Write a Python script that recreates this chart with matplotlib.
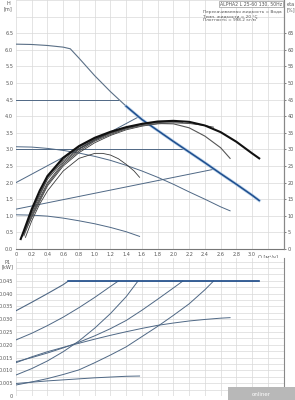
import matplotlib
matplotlib.use("Agg")
import matplotlib.pyplot as plt
import numpy as np

# ---------------- data ----------------
# H-Q curves (top chart)
q_s3 = [0, 0.2, 0.4, 0.6, 0.69, 0.8, 1.0, 1.2, 1.4, 1.6, 1.8, 2.0, 2.2, 2.4, 2.6, 2.8, 3.0, 3.09]
h_s3 = [6.17, 6.16, 6.13, 6.08, 6.03, 5.75, 5.22, 4.74, 4.30, 3.90, 3.57, 3.24, 2.92, 2.60, 2.27, 1.95, 1.62, 1.46]
q_s2 = [0, 0.2, 0.4, 0.6, 0.8, 1.0, 1.2, 1.4, 1.6, 1.8, 2.0, 2.2, 2.4, 2.6, 2.72]
h_s2 = [3.08, 3.07, 3.03, 2.97, 2.89, 2.79, 2.67, 2.52, 2.35, 2.16, 1.95, 1.72, 1.50, 1.27, 1.15]
q_s1 = [0, 0.2, 0.4, 0.6, 0.8, 1.0, 1.2, 1.4, 1.57]
h_s1 = [1.03, 1.02, 0.99, 0.93, 0.85, 0.76, 0.65, 0.52, 0.38]
q_cp45 = [0, 1.3]
h_cp45 = [4.5, 4.5]
q_cp30 = [0, 2.12]
h_cp30 = [3.0, 3.0]
q_pphi = [0, 1.55]
h_pphi = [2.0, 3.97]
q_pplo = [0, 2.51]
h_pplo = [1.2, 2.40]

# efficiency curves (eta %, right axis)
q_e3 = [0.06, 0.1, 0.2, 0.3, 0.4, 0.6, 0.8, 1.0, 1.2, 1.4, 1.6, 1.8, 2.0, 2.2, 2.4, 2.6, 2.8, 3.0, 3.09]
e_e3 = [3, 5.5, 12, 17.5, 22, 27.5, 31, 33.5, 35.3, 36.7, 37.7, 38.4, 38.6, 38.3, 37.2, 35.2, 32.3, 28.8, 27.3]
q_e2 = [0.1, 0.2, 0.4, 0.6, 0.8, 1.0, 1.2, 1.4, 1.6, 1.8, 2.0, 2.2, 2.4, 2.6, 2.72]
e_e2 = [4, 10, 19.5, 25.5, 29.5, 32.5, 34.5, 36.2, 37.2, 37.8, 37.7, 36.5, 34, 30.5, 27.3]
q_e1 = [0.12, 0.2, 0.3, 0.4, 0.6, 0.8, 1.0, 1.1, 1.2, 1.3, 1.4, 1.5, 1.57]
e_e1 = [3.5, 8.5, 13.5, 17.5, 23.5, 27.3, 28.8, 28.8, 28.3, 27.2, 25.5, 23.5, 21.6]
q_ecp45 = [0.08, 0.2, 0.4, 0.6, 0.8, 1.0, 1.2, 1.3]
e_ecp45 = [4, 11, 21, 26.5, 30.3, 33, 35, 35.8]
q_epphi = [0.1, 0.2, 0.4, 0.6, 0.8, 1.0, 1.2, 1.4, 1.55]
e_epphi = [5, 10.5, 20, 26, 30, 32.8, 34.8, 36.3, 37.2]
q_ecp30 = [0.07, 0.2, 0.4, 0.6, 0.8, 1.0, 1.2, 1.4, 1.6, 1.8, 2.0, 2.12]
e_ecp30 = [3.5, 11.5, 21.5, 27, 30.7, 33.2, 35.1, 36.5, 37.5, 38.1, 38.3, 38.2]
q_epplo = [0.1, 0.2, 0.4, 0.6, 0.8, 1.0, 1.2, 1.4, 1.6, 1.8, 2.0, 2.2, 2.4, 2.51]
e_epplo = [4.5, 9.5, 19, 25, 29, 32, 34.2, 35.9, 37, 37.7, 38.0, 37.8, 37.2, 36.7]

# P1-Q curves (bottom chart)
q_p3 = [0, 0.2, 0.4, 0.6, 0.665, 3.09]
p_p3 = [0.0333, 0.0366, 0.0400, 0.0435, 0.0449, 0.0449]
q_pcp45 = [0, 0.2, 0.4, 0.6, 0.8, 1.0, 1.2, 1.3]
p_pcp45 = [0.0219, 0.0245, 0.0275, 0.0308, 0.0345, 0.0385, 0.0428, 0.0449]
q_ppphi = [0, 0.2, 0.4, 0.6, 0.8, 1.0, 1.2, 1.4, 1.55]
p_ppphi = [0.0082, 0.0107, 0.0137, 0.0173, 0.0215, 0.0265, 0.0322, 0.0388, 0.0449]
q_pcp30 = [0, 0.2, 0.4, 0.6, 0.8, 1.0, 1.2, 1.4, 1.6, 1.8, 2.0, 2.12]
p_pcp30 = [0.0134, 0.0150, 0.0168, 0.0188, 0.0210, 0.0235, 0.0263, 0.0295, 0.0335, 0.0378, 0.0422, 0.0449]
q_p2 = [0, 0.2, 0.4, 0.6, 0.8, 1.0, 1.2, 1.4, 1.6, 1.8, 2.0, 2.2, 2.4, 2.6, 2.72]
p_p2 = [0.0130, 0.0153, 0.0173, 0.0190, 0.0206, 0.0222, 0.0237, 0.0251, 0.0264, 0.0276, 0.0285, 0.0293, 0.0299, 0.0304, 0.0306]
q_ppplo = [0, 0.2, 0.4, 0.6, 0.8, 1.0, 1.2, 1.4, 1.6, 1.8, 2.0, 2.2, 2.4, 2.51]
p_ppplo = [0.0043, 0.0055, 0.0068, 0.0084, 0.0102, 0.0130, 0.0160, 0.0192, 0.0232, 0.0272, 0.0315, 0.0360, 0.0415, 0.0449]
q_p1 = [0, 0.2, 0.4, 0.6, 0.8, 1.0, 1.2, 1.4, 1.57]
p_p1 = [0.0049, 0.0054, 0.0059, 0.0063, 0.0067, 0.0071, 0.0074, 0.0077, 0.0078]

x_ticks = [round(0.2 * i, 1) for i in range(16)]
h_ticks = [round(0.5 * i, 1) for i in range(14)]
eta_ticks = list(range(0, 70, 5))
p_ticks = [0.005 * i for i in range(10)]
p_tick_labels = ["0"] + ["%.3f" % (0.005 * i) for i in range(1, 10)]

header = "ALPHA2 L 25-60 130, 50Hz"
info = ["Перекачиваемая жидкость = Вода", "Темп. жидкости = 20 °C", "Плотность = 998.2 кг/м³"]

# ---------------- style ----------------
plt.rcParams['font.family'] = ['DejaVu Sans']
TXT = "#555555"
GRID = "#d9d9d9"
LINE = "#4f6885"
BLUE = "#1f4f8f"
FS = 3.6
FS_HEAD = 3.3
FS_INFO = 3.05

fig = plt.figure(figsize=(2.95, 4.0), dpi=100)
W, H = 295.0, 400.0

def ax_rect(x0, y_top, x1, y_bot):
    return [x0 / W, 1 - y_bot / H, (x1 - x0) / W, (y_bot - y_top) / H]

# ---------- top chart ----------
ax = fig.add_axes(ax_rect(16, 0, 283.6, 249))
ax.set_xlim(0, 3.4)
ax.set_ylim(0, 7.5)
for v in np.arange(0, 3.41, 0.2):
    ax.axvline(v, color=GRID, lw=0.5, zorder=0)
for v in np.arange(0, 7.51, 0.5):
    ax.axhline(v, color=GRID, lw=0.5, zorder=0)
for s in ["top", "left"]:
    ax.spines[s].set_visible(False)
ax.spines["bottom"].set_color("#777777")
ax.spines["bottom"].set_linewidth(0.8)
ax.spines["right"].set_color("#888888")
ax.spines["right"].set_linewidth(0.8)
ax.set_xticks(x_ticks)
ax.set_xticklabels(["0"] + ["%.1f" % v for v in x_ticks[1:]])
ax.set_yticks(h_ticks)
ax.set_yticklabels(["%.1f" % v for v in h_ticks])
ax.tick_params(axis="both", labelsize=FS, colors=TXT, length=0, pad=2)
ax.text(3.2, -0.17, "Q [м³/ч]", fontsize=FS, color=TXT, ha="center", va="top")
fig.text(8 / W, 1 - 1 / H, "H", fontsize=FS, color=TXT, ha="center", va="top")
fig.text(8 / W, 1 - 6 / H, "[m]", fontsize=FS, color=TXT, ha="center", va="top")

for qq, hh in [(q_s1, h_s1), (q_s2, h_s2), (q_cp45, h_cp45), (q_cp30, h_cp30),
               (q_pphi, h_pphi), (q_pplo, h_pplo)]:
    ax.plot(qq, hh, color=LINE, lw=0.7, zorder=3)
ax.plot(q_s3, h_s3, color="#5a6f86", lw=0.8, zorder=3)
q_b = [q for q in q_s3 if q >= 1.3]
h_b = [h for q, h in zip(q_s3, h_s3) if q >= 1.3]
ax.plot(q_b, h_b, color="#a9c6e4", lw=2.2, zorder=3, alpha=0.8)
ax.plot(q_b, h_b, color=BLUE, lw=1.1, zorder=4)

ax2 = ax.twinx()
ax2.set_ylim(0, 75)
for s in ["top", "left", "bottom"]:
    ax2.spines[s].set_visible(False)
ax2.spines["right"].set_color("#888888")
ax2.spines["right"].set_linewidth(0.8)
ax2.set_yticks(eta_ticks)
ax2.set_yticklabels([str(v) for v in eta_ticks])
ax2.tick_params(axis="y", labelsize=FS, colors=TXT, length=1.5, width=0.5, pad=1.5)
ax2.text(1.01, 74.5, "eta", transform=ax2.get_yaxis_transform(), fontsize=FS, color=TXT, ha="left", va="top")
ax2.text(1.01, 72.7, "[%]", transform=ax2.get_yaxis_transform(), fontsize=FS, color=TXT, ha="left", va="top")

for qq, ee in [(q_e1, e_e1), (q_ecp45, e_ecp45), (q_epphi, e_epphi), (q_ecp30, e_ecp30), (q_epplo, e_epplo)]:
    ax2.plot(qq, ee, color="#3a3a3a", lw=0.6, zorder=5)
ax2.plot(q_e2, e_e2, color="#555555", lw=0.8, zorder=5)
ax2.plot(q_e3, e_e3, color="#111111", lw=1.5, zorder=6)

fig.text(282 / W, 1 - 1.5 / H, header, fontsize=FS_HEAD, color=TXT, ha="right", va="top",
         bbox=dict(boxstyle="square,pad=0.2", fc="white", ec="#999999", lw=0.5), zorder=10)
for i, t in enumerate(info):
    fig.text(203 / W, 1 - (10.5 + i * 3.7) / H, t, fontsize=FS_INFO, color=TXT,
             ha="left", va="top", zorder=10)

# ---------- bottom chart ----------
bx = fig.add_axes(ax_rect(16, 258, 283.6, 396))
bx.set_xlim(0, 3.4)
bx.set_ylim(0, 0.0539)
for v in np.arange(0, 3.41, 0.2):
    bx.axvline(v, color=GRID, lw=0.5, zorder=0)
for v in np.arange(0, 0.0539, 0.0025):
    bx.axhline(v, color=GRID, lw=0.5, zorder=0)
for s in ["top", "left", "bottom"]:
    bx.spines[s].set_visible(False)
bx.spines["right"].set_color("#888888")
bx.spines["right"].set_linewidth(0.8)
bx.set_xticks([])
bx.set_yticks(p_ticks)
bx.set_yticklabels(p_tick_labels)
bx.tick_params(axis="y", labelsize=FS, colors=TXT, length=0, pad=2)
fig.text(8 / W, 1 - 259.5 / H, "P1", fontsize=FS, color=TXT, ha="center", va="top")
fig.text(8 / W, 1 - 264.5 / H, "[kW]", fontsize=FS, color=TXT, ha="center", va="top")

for qq, pp in [(q_pcp45, p_pcp45), (q_ppphi, p_ppphi), (q_pcp30, p_pcp30),
               (q_p2, p_p2), (q_ppplo, p_ppplo), (q_p1, p_p1)]:
    bx.plot(qq, pp, color=LINE, lw=0.7, zorder=3)
bx.plot(q_p3, p_p3, color=LINE, lw=0.8, zorder=3)
bx.plot(q_p3[-2:], p_p3[-2:], color=BLUE, lw=1.1, zorder=4)

# watermark box
fig.patches.append(plt.Rectangle((228 / W, 0), 67 / W, 13 / H, transform=fig.transFigure,
                                 fc="#b8b8b8", ec="none", zorder=20))
fig.text(261 / W, 6 / H, "onliner", fontsize=4, color="white", ha="center", va="center", zorder=21)

fig.savefig("out.png", dpi=100)
